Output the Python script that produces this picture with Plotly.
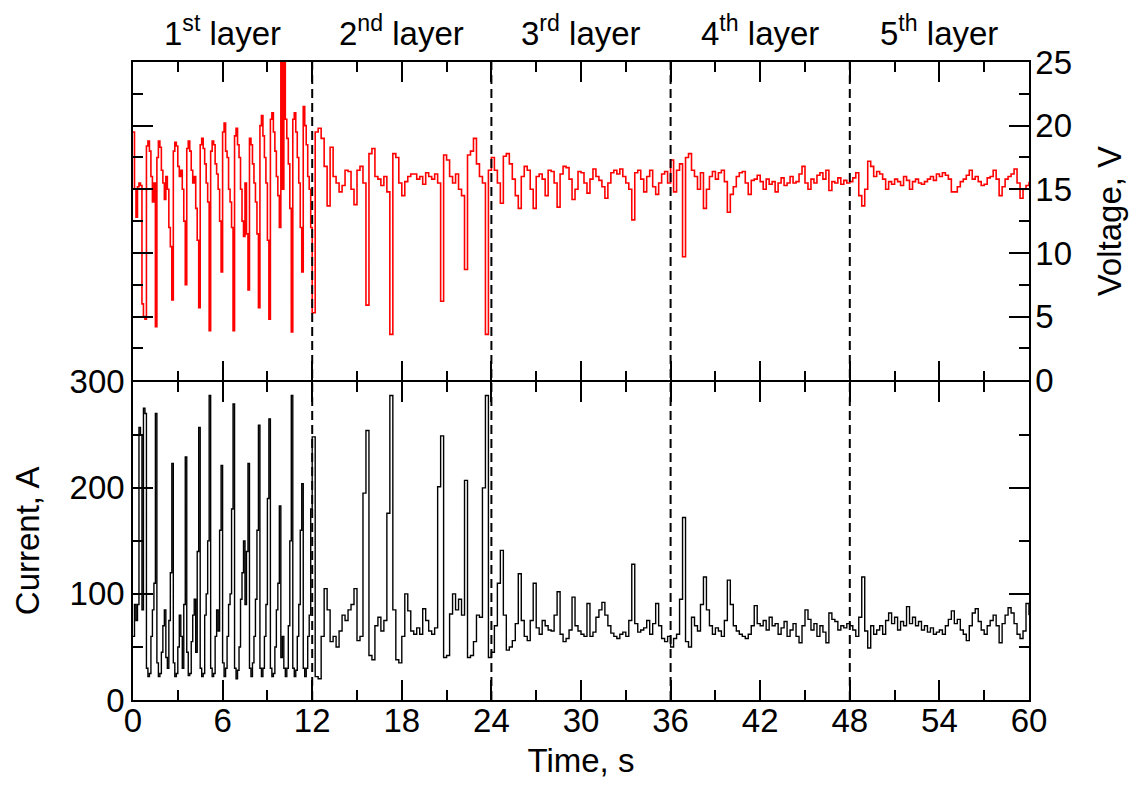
import numpy as np
import plotly.graph_objects as go
from plotly.subplots import make_subplots

# ---------------- data ----------------
# 0 - 12 s sampled every 0.1 s
t_fast = np.round(np.arange(0, 120) * 0.1, 1)
# 12 - 60 s sampled every 0.2 s
t_slow = np.round(12 + np.arange(0, 241) * 0.2, 1)

voltage_fast = [
    19.5, 15.0, 12.8, 15.2, 15.5, 15.3, 6.0, 5.0, 4.8, 18.4,
    18.8, 18.0, 16.0, 14.0, 15.5, 4.2, 17.5, 18.8, 18.3, 16.5,
    15.5, 14.2, 16.0, 15.0, 12.0, 10.5, 6.3, 18.0, 18.7, 18.4,
    16.8, 16.0, 16.5, 15.0, 12.5, 7.5, 18.2, 18.8, 18.0, 16.5,
    15.5, 16.0, 13.5, 11.0, 5.7, 18.5, 19.0, 18.2, 17.0, 15.5,
    14.0, 3.9, 18.0, 18.8, 18.5, 17.0, 16.2, 15.0, 12.5, 8.5,
    19.5, 20.2, 18.0, 17.5, 15.0, 14.0, 12.0, 3.9, 19.2, 19.8,
    18.5, 17.5, 15.0, 12.5, 11.3, 15.5, 11.5, 7.1, 19.0, 18.5,
    17.0, 15.5, 14.0, 11.5, 5.7, 20.0, 20.8, 19.2, 17.5, 15.5,
    11.0, 4.8, 20.5, 21.0, 19.5, 18.0, 16.0, 14.5, 12.0, 26.0,
    15.0, 26.0, 20.5, 19.0, 17.0, 13.5, 3.8, 20.5, 21.0, 19.5,
    17.5, 15.5, 12.0, 8.5, 21.5, 20.0, 18.5, 16.0, 15.0, 12.0,
]

current_fast = [
    60, 90, 75, 90, 257, 250, 85, 275, 270, 30,
    22, 25, 60, 85, 110, 270, 35, 22, 25, 45,
    70, 85, 40, 30, 75, 120, 223, 35, 22, 25,
    50, 80, 60, 30, 90, 229, 45, 23, 25, 55,
    80, 95, 45, 140, 257, 30, 22, 25, 80, 100,
    150, 287, 30, 22, 25, 60, 85, 65, 160, 221,
    35, 22, 30, 60, 90, 100, 180, 279, 30, 20,
    28, 50, 95, 120, 150, 90, 140, 223, 30, 22,
    35, 60, 95, 160, 259, 30, 22, 30, 60, 90,
    190, 265, 30, 22, 25, 50, 85, 110, 183, 40,
    60, 30, 22, 30, 70, 150, 287, 30, 22, 28,
    60, 90, 160, 204, 30, 22, 30, 60, 80, 180,
]

voltage_slow = [
    5.3, 19.5, 19.8, 19.0, 16.8, 13.7, 18.3, 16.0, 15.5, 14.8,
    15.3, 16.5, 16.4, 15.0, 13.8, 16.5, 16.8, 15.5, 5.9, 17.8,
    18.2, 16.0, 15.8, 15.3, 16.0, 14.8, 3.6, 17.8, 17.5, 15.5,
    14.5, 15.6, 16.0, 16.2, 16.2, 15.8, 16.0, 15.4, 16.3, 16.0,
    15.8, 16.2, 15.5, 6.2, 17.7, 17.3, 16.0, 15.5, 16.2, 15.0,
    14.5, 8.7, 17.7, 18.0, 19.0, 17.0, 16.0, 15.5, 3.6, 16.5,
    17.5, 16.5, 15.5, 13.9, 17.6, 17.8, 17.0, 15.8, 14.5, 13.5,
    16.0, 16.8, 16.5, 15.0, 13.5, 16.0, 16.2, 15.8, 14.5, 16.5,
    16.4, 15.5, 13.6, 16.2, 16.8, 16.7, 15.8, 14.2, 15.0, 16.4,
    16.3, 15.5, 14.7, 15.8, 16.6, 16.0, 15.7, 15.2, 14.3, 15.5,
    16.3, 16.5, 16.2, 16.6, 16.0, 15.5, 15.0, 12.6, 16.3, 16.5,
    15.8, 14.8, 16.0, 16.5, 15.2, 14.6, 15.5, 16.2, 16.4, 15.5,
    17.3, 14.8, 16.5, 17.0, 9.7, 17.5, 17.8, 16.5, 16.0, 15.0,
    16.3, 13.5, 15.0, 16.0, 16.4, 15.8, 16.3, 16.5, 15.6, 13.2,
    14.6, 15.2, 16.0, 16.3, 16.4, 15.5, 14.6, 15.7, 15.8, 16.1,
    15.6, 15.0, 15.8, 15.4, 15.6, 14.8, 15.5, 15.9, 15.3, 15.5,
    16.0, 15.5, 15.6, 16.2, 16.8, 15.5, 15.0, 15.8, 15.5, 16.1,
    16.3, 15.8, 16.5, 14.9, 15.6, 15.5, 15.9, 15.4, 15.7, 15.5,
    15.6, 15.9, 16.3, 14.5, 13.7, 15.0, 17.2, 16.8, 16.0, 16.4,
    16.2, 15.8, 15.0, 15.6, 15.4, 15.8, 15.6, 15.3, 16.0, 15.7,
    15.0, 15.6, 15.8, 15.5, 15.4, 15.6, 15.8, 16.0, 15.7, 16.2,
    16.0, 16.3, 16.1, 15.8, 14.8, 14.8, 15.2, 15.6, 15.8, 16.1,
    16.5, 15.8, 16.0, 15.6, 15.3, 15.4, 15.9, 16.0, 16.5, 15.8,
    14.5, 15.2, 15.8, 16.0, 16.2, 16.6, 15.5, 14.3, 15.0, 15.3,
    15.6,
]

current_slow = [
    248, 22, 20, 60, 105, 85, 55, 60, 50, 65,
    80, 75, 85, 90, 105, 56, 60, 195, 254, 42,
    38, 70, 78, 65, 75, 176, 287, 85, 38, 35,
    60, 100, 84, 65, 62, 68, 62, 86, 75, 65,
    62, 68, 201, 249, 40, 42, 81, 100, 85, 95,
    80, 207, 40, 42, 55, 80, 78, 200, 287, 40,
    45, 70, 110, 141, 80, 47, 50, 56, 72, 119,
    75, 60, 56, 75, 110, 68, 62, 75, 70, 66,
    65, 80, 102, 62, 55, 58, 66, 97, 70, 65,
    62, 60, 91, 60, 64, 78, 85, 92, 80, 70,
    63, 60, 58, 62, 64, 60, 75, 128, 72, 64,
    66, 68, 75, 62, 72, 91, 70, 58, 55, 60,
    50, 58, 62, 95, 172, 55, 50, 78, 70, 65,
    90, 116, 85, 70, 62, 68, 65, 60, 75, 113,
    90, 70, 65, 62, 60, 58, 62, 70, 89, 72,
    70, 75, 66, 78, 70, 72, 62, 68, 74, 60,
    66, 72, 60, 54, 70, 85, 76, 66, 72, 60,
    70, 64, 54, 82, 76, 74, 66, 70, 68, 72,
    70, 66, 60, 78, 116, 65, 49, 70, 62, 66,
    70, 62, 75, 82, 72, 78, 66, 74, 70, 88,
    72, 78, 70, 74, 66, 70, 64, 68, 62, 64,
    66, 62, 70, 76, 84, 72, 76, 66, 62, 56,
    70, 82, 86, 74, 66, 62, 70, 75, 80, 70,
    54, 72, 80, 87, 82, 72, 62, 58, 65, 91,
    80,
]

layer_centers = [6, 18, 30, 42, 54]
layer_labels = ["1<sup>st</sup> layer", "2<sup>nd</sup> layer", "3<sup>rd</sup> layer",
                "4<sup>th</sup> layer", "5<sup>th</sup> layer"]
layer_bounds = [12, 24, 36, 48]

time_s = np.concatenate([t_fast, t_slow])
voltage_V = np.array(voltage_fast + voltage_slow, dtype=float)
current_A = np.array(current_fast + current_slow, dtype=float)

# ---------------- figure ----------------
FONT = "Liberation Sans, Arial, sans-serif"
FS = 33
W, H = 1121, 775          # page body has an 8 px margin
ML, MR, MT, MB = 125, 100, 54, 83
plot_h = H - MT - MB
half_lw = 0.75 / plot_h   # keep the two middle axis lines on top of each other

fig = make_subplots(rows=2, cols=1, vertical_spacing=0)

fig.add_trace(go.Scatter(x=time_s, y=voltage_V, mode="lines",
                         line=dict(color="#ff0000", width=1.6, shape="hv"),
                         showlegend=False), row=1, col=1)
fig.add_trace(go.Scatter(x=time_s, y=current_A, mode="lines",
                         line=dict(color="#000000", width=1.4, shape="hv"),
                         showlegend=False), row=2, col=1)

axis_common = dict(showline=True, linecolor="black", linewidth=1.5, mirror="allticks",
                   ticks="inside", tickcolor="black", tickwidth=1.5, ticklen=20,
                   showgrid=False, zeroline=False,
                   tickfont=dict(family=FONT, size=FS, color="black"))

x_common = dict(axis_common, range=[0, 60], tick0=0, dtick=6,
                minor=dict(dtick=3, ticks="inside", ticklen=10, tickwidth=1.5,
                           tickcolor="black", showgrid=False))

fig.update_xaxes(x_common, showticklabels=False, row=1, col=1)
fig.update_xaxes(x_common, showticklabels=True, ticklabelstandoff=-9, row=2, col=1,
                 title=dict(text="Time, s", font=dict(family=FONT, size=FS, color="black"),
                            standoff=11))

fig.update_yaxes(axis_common, range=[0, 25], tick0=0, dtick=5, side="right",
                 domain=[0.5 + half_lw, 1], ticklabelstandoff=-2,
                 minor=dict(dtick=2.5, ticks="inside", ticklen=10, tickwidth=1.5,
                            tickcolor="black", showgrid=False),
                 title=dict(text="Voltage, V", font=dict(family=FONT, size=FS, color="black"),
                            standoff=27),
                 row=1, col=1)
fig.update_yaxes(axis_common, range=[0, 300], tick0=0, dtick=100, side="left",
                 domain=[0, 0.5 - half_lw],
                 minor=dict(dtick=50, ticks="inside", ticklen=10, tickwidth=1.5,
                            tickcolor="black", showgrid=False),
                 title=dict(text="Current, A", font=dict(family=FONT, size=FS, color="black"),
                            standoff=20),
                 row=2, col=1)

for xb in layer_bounds:
    fig.add_shape(type="line", xref="x", yref="paper", x0=xb, x1=xb, y0=0, y1=1,
                  line=dict(color="black", width=2, dash="9px,5px"), layer="above")

for xc, lab in zip(layer_centers, layer_labels):
    fig.add_annotation(x=xc, xref="x", y=1 + 31 / plot_h, yref="paper", yanchor="middle",
                       text=lab, showarrow=False,
                       font=dict(family=FONT, size=FS, color="black"))

fig.update_layout(width=W, height=H,
                  margin=dict(l=ML, r=MR, t=MT, b=MB, autoexpand=False),
                  paper_bgcolor="white", plot_bgcolor="white",
                  font=dict(family=FONT, size=FS, color="black"))

fig.write_html("out.html")
